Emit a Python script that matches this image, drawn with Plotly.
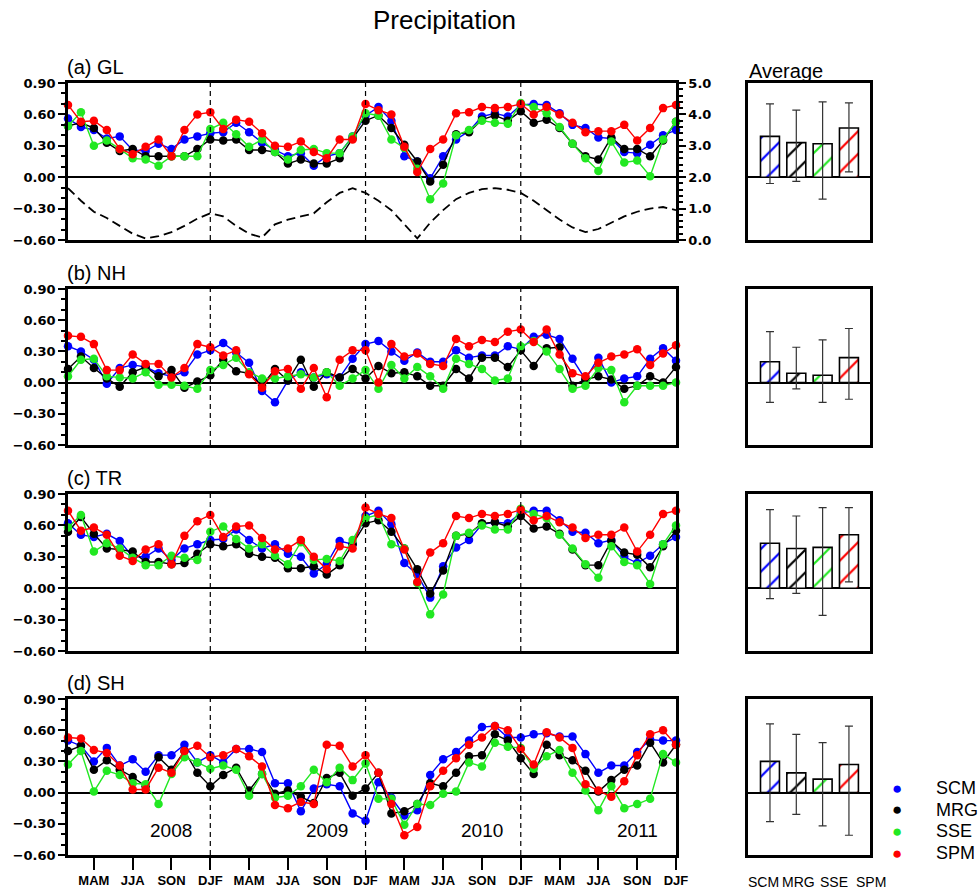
import plotly.graph_objects as go

W, H = 978, 890
def px(x): return x / W
def py(y): return 1 - y / H
def sfx(n): return "" if n == 1 else str(n)

# ---------------- data ----------------
months = list(range(48))                      # Feb 2008 .. Jan 2012
season_tick_idx = list(range(2, 48, 3))
season_labels = ["MAM", "JJA", "SON", "DJF"] * 4
djf_idx = [11, 23, 35]
year_labels = ["2008", "2009", "2010", "2011"]
year_idx = [8, 20, 32, 44]
year_label_val = -0.36

series = ["SCM", "MRG", "SSE", "SPM"]
series_colors = ["#0000ff", "#000000", "#22e822", "#ff0000"]
panel_titles = ["(a) GL", "(b) NH", "(c) TR", "(d) SH"]

gl_scm = [0.56,0.48,0.45,0.37,0.39,0.26,0.25,0.32,0.27,0.36,0.39,0.42,0.43,0.52,0.43,0.33,0.26,0.20,0.23,0.11,0.20,0.23,0.39,0.59,
          0.67,0.54,0.20,0.15,-0.01,0.20,0.36,0.44,0.58,0.61,0.58,0.69,0.70,0.69,0.61,0.50,0.47,0.38,0.37,0.24,0.23,0.31,0.40,0.45]
gl_mrg = [0.49,0.52,0.47,0.33,0.25,0.27,0.20,0.20,0.20,0.20,0.27,0.36,0.35,0.36,0.26,0.26,0.24,0.13,0.17,0.13,0.13,0.18,0.37,0.54,
          0.59,0.47,0.31,0.15,-0.04,0.12,0.41,0.43,0.55,0.59,0.54,0.63,0.52,0.55,0.47,0.32,0.20,0.17,0.38,0.27,0.27,0.20,0.35,0.53]
gl_sse = [0.49,0.62,0.30,0.35,0.27,0.18,0.17,0.11,0.20,0.20,0.20,0.46,0.52,0.41,0.29,0.36,0.24,0.17,0.26,0.27,0.23,0.23,0.39,0.61,
          0.59,0.36,0.28,0.08,-0.21,-0.06,0.40,0.45,0.54,0.52,0.51,0.71,0.67,0.61,0.48,0.32,0.18,0.06,0.34,0.14,0.16,0.01,0.36,0.53]
gl_spm = [0.69,0.53,0.54,0.45,0.27,0.22,0.29,0.36,0.20,0.45,0.60,0.62,0.46,0.55,0.53,0.42,0.30,0.29,0.34,0.24,0.18,0.36,0.36,0.70,
          0.64,0.60,0.29,0.05,0.27,0.36,0.61,0.62,0.67,0.66,0.67,0.70,0.60,0.67,0.60,0.52,0.43,0.44,0.44,0.50,0.35,0.47,0.66,0.69]
gl_precip = [1.65,1.25,0.90,0.70,0.45,0.20,0.05,0.12,0.25,0.45,0.68,0.85,0.75,0.45,0.20,0.08,0.50,0.65,0.75,0.85,1.20,1.50,1.65,1.50,
             1.25,0.95,0.50,0.05,0.55,0.95,1.30,1.50,1.62,1.65,1.60,1.50,1.25,0.95,0.65,0.40,0.25,0.35,0.55,0.75,0.90,1.00,1.05,0.95]

nh_scm = [0.35,0.30,0.22,-0.01,0.14,0.17,0.15,0.09,0.06,0.10,0.27,0.31,0.38,0.29,0.19,-0.08,-0.19,0.02,0.10,0.05,0.08,0.05,0.23,0.37,
          0.40,0.30,0.21,0.29,0.20,0.20,0.31,0.24,0.26,0.26,0.35,0.32,0.44,0.46,0.42,0.23,0.03,0.24,0.00,0.04,0.06,0.23,0.33,0.21]
nh_mrg = [0.13,0.25,0.14,0.04,-0.04,0.10,0.15,0.06,0.12,-0.05,0.01,0.07,0.22,0.11,0.09,-0.03,0.13,0.02,0.22,-0.04,0.10,0.05,0.13,0.04,
          0.16,0.09,0.10,0.06,-0.03,-0.03,0.13,0.04,0.24,0.24,0.15,0.31,0.16,0.33,0.34,-0.03,0.03,0.06,0.03,-0.06,-0.03,0.06,0.00,0.15]
nh_sse = [0.06,0.22,0.23,0.06,0.05,0.04,0.10,-0.02,-0.02,-0.03,-0.06,0.12,0.17,0.24,0.10,0.04,0.04,0.06,0.08,0.05,0.10,-0.03,0.04,0.12,
          -0.06,0.17,0.04,0.15,0.06,-0.06,0.23,0.18,0.13,0.02,0.04,0.35,0.40,0.30,0.13,-0.06,-0.03,0.14,0.12,-0.19,-0.03,-0.03,-0.03,0.00]
nh_spm = [0.45,0.44,0.37,0.12,0.12,0.27,0.18,0.18,0.05,0.14,0.37,0.34,0.26,0.31,0.08,-0.05,0.11,0.13,-0.06,0.14,-0.14,0.22,0.31,0.31,
          0.00,0.37,0.25,0.28,0.18,0.16,0.42,0.35,0.41,0.39,0.49,0.51,0.39,0.51,0.27,0.09,0.06,0.19,0.25,0.27,0.32,0.17,0.28,0.36]

tr_scm = [0.62,0.51,0.49,0.52,0.45,0.30,0.30,0.38,0.27,0.38,0.42,0.46,0.47,0.56,0.46,0.38,0.42,0.33,0.30,0.14,0.23,0.45,0.42,0.69,
          0.74,0.61,0.24,0.13,-0.09,0.21,0.39,0.46,0.61,0.63,0.62,0.72,0.74,0.74,0.65,0.54,0.53,0.43,0.46,0.30,0.24,0.31,0.42,0.49]
tr_mrg = [0.54,0.68,0.52,0.38,0.37,0.35,0.25,0.25,0.23,0.24,0.33,0.42,0.40,0.42,0.33,0.30,0.29,0.19,0.19,0.21,0.13,0.22,0.42,0.62,
          0.65,0.54,0.38,0.18,-0.05,0.17,0.50,0.52,0.62,0.63,0.59,0.69,0.57,0.59,0.52,0.37,0.22,0.22,0.45,0.34,0.32,0.20,0.40,0.55]
tr_sse = [0.58,0.70,0.35,0.43,0.38,0.29,0.22,0.22,0.31,0.29,0.27,0.54,0.59,0.47,0.38,0.42,0.31,0.23,0.44,0.27,0.28,0.26,0.46,0.67,
          0.70,0.42,0.38,0.05,-0.25,-0.06,0.50,0.53,0.60,0.56,0.56,0.76,0.71,0.67,0.51,0.38,0.23,0.10,0.40,0.25,0.22,0.04,0.42,0.60]
tr_spm = [0.74,0.55,0.58,0.51,0.31,0.26,0.37,0.42,0.23,0.50,0.64,0.70,0.49,0.59,0.60,0.48,0.37,0.38,0.46,0.30,0.18,0.40,0.38,0.77,
          0.71,0.67,0.37,0.06,0.34,0.43,0.69,0.67,0.71,0.69,0.71,0.75,0.65,0.69,0.63,0.58,0.48,0.51,0.51,0.58,0.35,0.51,0.71,0.74]

sh_scm = [0.50,0.45,0.30,0.43,0.26,0.32,0.20,0.36,0.36,0.46,0.29,0.36,0.29,0.42,0.42,0.39,0.09,0.09,-0.18,0.04,0.08,0.06,-0.20,-0.27,
          0.10,-0.05,-0.22,-0.17,0.17,0.32,0.39,0.50,0.63,0.64,0.53,0.53,0.56,0.57,0.54,0.54,0.37,0.19,0.26,0.26,0.39,0.51,0.50,0.50]
sh_mrg = [0.40,0.45,0.22,0.31,0.22,0.15,0.06,0.34,0.22,0.40,0.19,0.06,0.17,0.24,0.02,0.18,-0.01,0.02,-0.04,-0.10,0.14,0.19,-0.03,0.04,
          0.19,-0.20,-0.18,-0.11,0.09,0.06,0.19,0.35,0.36,0.56,0.50,0.33,0.18,0.46,0.36,0.31,0.21,0.01,0.12,0.22,0.26,0.48,0.29,0.46]
sh_sse = [0.27,0.40,0.01,0.21,0.17,0.09,0.08,-0.11,0.18,0.34,0.29,0.23,0.26,0.22,-0.03,0.18,-0.05,-0.03,0.06,0.22,0.10,0.24,0.12,0.28,
          -0.06,-0.06,-0.31,-0.11,-0.12,-0.01,0.01,0.29,0.25,0.48,0.44,0.43,0.23,0.35,0.41,0.19,0.02,-0.17,0.06,-0.15,-0.11,-0.06,0.37,0.29]
sh_spm = [0.53,0.52,0.41,0.38,0.26,0.03,0.03,0.24,0.19,0.40,0.45,0.34,0.36,0.42,0.35,0.25,-0.12,-0.15,-0.09,-0.11,0.46,0.45,0.25,0.36,
          0.19,-0.11,-0.41,-0.33,0.06,0.21,0.33,0.46,0.53,0.64,0.60,0.42,0.27,0.58,0.53,0.43,0.08,0.02,-0.04,0.11,0.36,0.56,0.60,0.46]

# averages (bars) with upper / lower whisker ends
gl_avg = [0.39, 0.33, 0.32, 0.47]; gl_hi = [0.70, 0.64, 0.72, 0.71]; gl_lo = [-0.06, -0.04, -0.21, 0.05]
nh_avg = [0.20, 0.09, 0.07, 0.24]; nh_hi = [0.49, 0.34, 0.41, 0.52]; nh_lo = [-0.19, -0.06, -0.19, -0.16]
tr_avg = [0.43, 0.38, 0.39, 0.51]; tr_hi = [0.75, 0.69, 0.77, 0.77]; tr_lo = [-0.10, -0.05, -0.26, 0.06]
sh_avg = [0.30, 0.19, 0.13, 0.27]; sh_hi = [0.66, 0.56, 0.48, 0.64]; sh_lo = [-0.28, -0.21, -0.32, -0.41]

panels = [
    ([gl_scm, gl_mrg, gl_sse, gl_spm], gl_avg, gl_hi, gl_lo),
    ([nh_scm, nh_mrg, nh_sse, nh_spm], nh_avg, nh_hi, nh_lo),
    ([tr_scm, tr_mrg, tr_sse, tr_spm], tr_avg, tr_hi, tr_lo),
    ([sh_scm, sh_mrg, sh_sse, sh_spm], sh_avg, sh_hi, sh_lo),
]

# ---------------- layout geometry ----------------
panel_px = [(83, 240), (289, 445), (494, 651), (699, 855)]
left_dom = [px(68), px(676)]
bar_dom = [px(748), px(870)]
bar_pos = list(range(len(series)))

FONT = "Liberation Sans, Arial, Helvetica, sans-serif"
NUMFONT = "DejaVu Sans, Liberation Sans, sans-serif"

fig = go.Figure()
layout = dict(width=W, height=H, margin=dict(l=0, r=0, t=0, b=0),
              paper_bgcolor="white", plot_bgcolor="white", showlegend=False,
              template="none", font=dict(family=FONT, color="black"))
shapes, annots = [], []

for k, (vals, avg, hi, lo) in enumerate(panels):
    a = sfx(2 * k + 1)
    b = sfx(2 * k + 2)
    top, bot = panel_px[k]
    ydom = [py(bot), py(top)]

    for name, col, v in zip(series, series_colors, vals):
        fig.add_trace(go.Scatter(x=months, y=v, mode="lines+markers", name=name,
                                 line=dict(color=col, width=1.4),
                                 marker=dict(color=col, size=8.5),
                                 cliponaxis=False,
                                 xaxis=f"x{a}", yaxis=f"y{a}"))

    fig.add_trace(go.Bar(x=bar_pos, y=avg, width=0.72,
                         marker=dict(color="white",
                                     line=dict(color="black", width=1.6),
                                     pattern=dict(shape="/", fgcolor=series_colors,
                                                  bgcolor="white", size=16, solidity=0.14)),
                         error_y=dict(type="data", symmetric=False,
                                      array=[h - m for h, m in zip(hi, avg)],
                                      arrayminus=[m - l for m, l in zip(avg, lo)],
                                      color="#333333", thickness=1.2, width=4),
                         xaxis=f"x{b}", yaxis=f"y{b}"))

    common_line = dict(showline=True, mirror=True, linewidth=2.5, linecolor="black",
                       showgrid=False)
    xcfg = dict(domain=left_dom, anchor=f"y{a}", range=[0, 47], zeroline=False, **common_line)
    if k == 3:
        xcfg.update(tickmode="array", tickvals=season_tick_idx, ticktext=season_labels,
                    ticks="outside", ticklen=12, tickwidth=2, tickcolor="black",
                    tickfont=dict(family=FONT, size=13, color="black", weight="bold"))
    else:
        xcfg.update(showticklabels=False, ticks="")
    layout[f"xaxis{a}"] = xcfg
    layout[f"yaxis{a}"] = dict(domain=ydom, anchor=f"x{a}", range=[-0.6, 0.9],
                               tickmode="linear", tick0=0, dtick=0.3, tickformat=".2f",
                               ticks="outside", ticklen=7, tickwidth=2, tickcolor="black",
                               minor=dict(tickmode="linear", tick0=0, dtick=0.1, ticks="outside",
                                          ticklen=4, tickwidth=1.5, tickcolor="black", showgrid=False),
                               tickfont=dict(family=NUMFONT, size=13, color="black", weight="bold"),
                               zeroline=True, zerolinecolor="black", zerolinewidth=1.6,
                               **common_line)
    layout[f"xaxis{b}"] = dict(domain=bar_dom, anchor=f"y{b}", range=[-0.835, 3.8],
                               showticklabels=False, ticks="", zeroline=False, **common_line)
    layout[f"yaxis{b}"] = dict(domain=ydom, anchor=f"x{b}", range=[-0.6, 0.9],
                               showticklabels=False, ticks="",
                               zeroline=True, zerolinecolor="black", zerolinewidth=1.6,
                               **common_line)

    for d in djf_idx:
        shapes.append(dict(type="line", xref=f"x{a}", yref=f"y{a} domain",
                           x0=d, x1=d, y0=0, y1=1,
                           line=dict(color="black", width=1.2, dash="5px,4px")))

    annots.append(dict(text=panel_titles[k], xref="paper", yref="paper",
                       x=px(65), y=py(top - 16), xanchor="left", yanchor="middle",
                       showarrow=False, font=dict(size=20, family=FONT, color="black")))

# right-hand axis of panel (a)
fig.add_trace(go.Scatter(x=months, y=gl_precip, mode="lines",
                         line=dict(color="black", width=1.8, dash="9px,5px"),
                         xaxis="x", yaxis="y9"))
layout["yaxis9"] = dict(overlaying="y", anchor="x", side="right", range=[0, 5],
                        tickmode="linear", tick0=0, dtick=1, tickformat=".1f",
                        ticks="outside", ticklen=7, tickwidth=2, tickcolor="black",
                        minor=dict(tickmode="linear", tick0=0, dtick=0.2, ticks="outside",
                                   ticklen=4, tickwidth=1.5, tickcolor="black", showgrid=False),
                        tickfont=dict(family=NUMFONT, size=13, color="black", weight="bold"),
                        showgrid=False, zeroline=False, showline=True, linewidth=2.5,
                        linecolor="black")

# year labels in panel (d)
for lab, xi in zip(year_labels, year_idx):
    annots.append(dict(text=lab, xref="x7", yref="y7", x=xi, y=year_label_val,
                       showarrow=False, font=dict(size=19, family=FONT, color="black")))

# title and "Average"
annots.append(dict(text="Precipitation", xref="paper", yref="paper", x=px(444), y=py(20),
                   xanchor="center", yanchor="middle", showarrow=False,
                   font=dict(size=26, family=FONT, color="black")))
annots.append(dict(text="Average", xref="paper", yref="paper", x=px(747), y=py(71),
                   xanchor="left", yanchor="middle", showarrow=False,
                   font=dict(size=20, family=FONT, color="black")))

# category labels below the bottom bar panel
for lab, xc in zip(series, [763, 798, 834, 871]):
    annots.append(dict(text=lab, xref="paper", yref="paper", x=px(xc), y=py(882),
                       xanchor="center", yanchor="middle", showarrow=False,
                       font=dict(size=14, family=FONT, color="black")))

# legend
for j, (lab, col) in enumerate(zip(series, series_colors)):
    yy = py(788 + 21.7 * j)
    annots.append(dict(text="\u25cf", xref="paper", yref="paper", x=px(897), y=yy,
                       xanchor="center", yanchor="middle", showarrow=False,
                       font=dict(size=17, family=FONT, color=col)))
    annots.append(dict(text=lab, xref="paper", yref="paper", x=px(934), y=yy,
                       xanchor="left", yanchor="middle", showarrow=False,
                       font=dict(size=18, family=FONT, color="black")))

layout["shapes"] = shapes
layout["annotations"] = annots
fig.update_layout(**layout)
fig.write_html("out.html")
